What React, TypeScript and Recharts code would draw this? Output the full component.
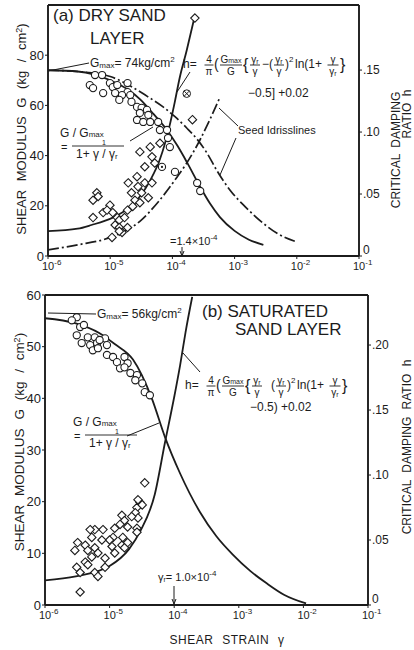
import React from 'react'
import { ComposedChart, Line, Scatter, XAxis, YAxis, ReferenceLine } from 'recharts'

const INK = '#1c1c1c'
const FONT = '"Liberation Sans", Arial, sans-serif'

type Pt = [number, number]

const STRAIN_TICKS = [1e-6, 1e-5, 1e-4, 1e-3, 1e-2, 1e-1]

// (a) dry sand layer
const DRY_G_TICKS = [0, 20, 40, 60, 80]
const DRY_H_TICKS = [0, 0.05, 0.1, 0.15]

const DRY_G_FIT: Pt[] = [
  [1e-6, 74], [3e-6, 73.5], [1e-5, 70], [2e-5, 66], [3e-5, 62.5], [5e-5, 56.5], [8e-5, 50.5],
  [1.2e-4, 44], [1.7e-4, 37.5], [2.8e-4, 27.5], [4e-4, 21], [5.8e-4, 15.5], [1e-3, 10],
  [1.7e-3, 6.5], [2.9e-3, 4.4],
]
const DRY_G_SEED: Pt[] = [
  [1e-6, 74], [3e-6, 73.5], [1e-5, 71.5], [2e-5, 68], [4e-5, 63.5], [7e-5, 59.5], [1.1e-4, 55.5],
  [1.7e-4, 51], [2.5e-4, 46.5], [3.6e-4, 41], [5.2e-4, 34], [8.4e-4, 26.3], [1.5e-3, 19.5],
  [2.9e-3, 13], [5e-3, 8.8], [1e-2, 5.6],
]
const DRY_H_FIT: Pt[] = [
  [1e-6, 0.02], [3e-6, 0.022], [5e-6, 0.025], [1.1e-5, 0.031], [1.9e-5, 0.038], [3e-5, 0.048],
  [4.4e-5, 0.061], [6.3e-5, 0.078], [9e-5, 0.105], [1.1e-4, 0.125], [1.3e-4, 0.143],
  [1.7e-4, 0.166], [2.3e-4, 0.194],
]
const DRY_H_SEED: Pt[] = [
  [1e-6, 0.005], [3e-6, 0.009], [1e-5, 0.015], [3e-5, 0.028], [6e-5, 0.044], [1.2e-4, 0.064],
  [1.7e-4, 0.075], [2.8e-4, 0.094], [4e-4, 0.11], [5.8e-4, 0.128],
]
const DRY_G_DATA: Pt[] = [
  [5.7e-6, 72.1], [7.4e-6, 72.1], [4.7e-6, 68.1], [5.3e-6, 66.9], [7.7e-6, 64.9], [9.9e-6, 68.9],
  [1.1e-5, 67.3], [1.3e-5, 68.1], [1.9e-5, 68.9], [1.9e-5, 65.3], [1.2e-5, 64.9], [1.55e-5, 64.1],
  [2.1e-5, 64.1], [1.4e-5, 62.2], [2.2e-5, 61.4], [2.7e-5, 59.4], [3.2e-5, 59], [3.9e-5, 58.2],
  [3e-5, 57], [4.1e-5, 56.2], [2.7e-5, 54.2], [3.4e-5, 53.4], [4.4e-5, 53.4], [5.9e-5, 53.4],
  [6.3e-5, 50.2], [8.2e-5, 50.2], [8.5e-5, 47], [9.1e-5, 43.4], [1.1e-4, 33.5], [2.5e-4, 29.1],
  [2.8e-4, 25.9],
]
const DRY_G_DOTTED: Pt[] = [[6.8e-5, 35.5]]
const DRY_H_DATA: Pt[] = [
  [5.3e-6, 0.031], [6.1e-6, 0.051], [5.3e-6, 0.045], [6.4e-6, 0.048], [7.7e-6, 0.035],
  [9.9e-6, 0.041], [8.9e-6, 0.037], [1.1e-5, 0.035], [1.3e-5, 0.031], [1.4e-5, 0.029],
  [1.2e-5, 0.025], [1.4e-5, 0.023], [1.55e-5, 0.019], [1.7e-5, 0.031], [1.9e-5, 0.037],
  [1.95e-5, 0.059], [2.7e-5, 0.064], [2.2e-5, 0.051], [2.8e-5, 0.056], [2.5e-5, 0.045],
  [3.2e-5, 0.051], [3.6e-5, 0.059], [4.7e-5, 0.059], [4.1e-5, 0.047], [3e-5, 0.043],
  [2.3e-5, 0.04], [1.9e-5, 0.023], [3e-5, 0.084], [4.4e-5, 0.088], [6.3e-5, 0.091],
  [4.7e-5, 0.08], [5.2e-5, 0.075], [3.6e-5, 0.072], [1.07e-5, 0.015], [1.4e-5, 0.02],
  [2.1e-4, 0.11], [2.3e-4, 0.192],
]
const DRY_H_CROSSED: Pt[] = [[1.7e-4, 0.131]]

// (b) saturated sand layer
const SAT_G_TICKS = [0, 10, 20, 30, 40, 50, 60]
const SAT_H_TICKS = [0, 0.05, 0.1, 0.15, 0.2]

const SAT_G_FIT: Pt[] = [
  [1e-6, 55.5], [3e-6, 54.5], [7e-6, 52.6], [1.2e-5, 50.5], [2.3e-5, 47.5], [4.5e-5, 40],
  [7.2e-5, 32.5], [1.23e-4, 25.5], [2.5e-4, 18], [4.5e-4, 13.3], [8e-4, 9.8], [1.5e-3, 6.6],
  [2.7e-3, 4.2], [5e-3, 2], [1.1e-2, 0.3],
]
const SAT_H_FIT: Pt[] = [
  [1e-6, 0.019], [3e-6, 0.022], [1e-5, 0.03], [2e-5, 0.043], [3e-5, 0.057], [5e-5, 0.085],
  [7.2e-5, 0.125], [1e-4, 0.16], [1.23e-4, 0.184], [1.5e-4, 0.21], [1.9e-4, 0.237],
]
const SAT_G_DATA: Pt[] = [
  [3.1e-6, 55.7], [2.6e-6, 55.1], [3.5e-6, 53.8], [3.1e-6, 52.2], [3.7e-6, 50.7], [4.6e-6, 51.8],
  [5e-6, 50.3], [5.9e-6, 51.8], [6.4e-6, 50.7], [5.5e-6, 49.3], [8.5e-6, 51.6], [9.1e-6, 50.3],
  [6.6e-6, 49.7], [9.1e-6, 48.4], [1.13e-5, 48], [1.3e-5, 47], [1.45e-5, 45.8], [1.7e-5, 48],
  [1.9e-5, 46.8], [2.1e-5, 44.9], [2.65e-5, 44.5], [2.5e-5, 43.5], [3.2e-5, 42.9],
  [3.5e-5, 41.2], [4.2e-5, 40.6], [1.7e-5, 46], [4e-6, 54.2], [7e-6, 51.3],
]
const SAT_H_DATA: Pt[] = [
  [3.5e-5, 0.094], [2.95e-5, 0.079], [2.65e-5, 0.075], [2.5e-5, 0.071], [2.75e-5, 0.067],
  [2.2e-5, 0.068], [2.65e-5, 0.059], [2.65e-5, 0.056], [1.55e-5, 0.069], [1.7e-5, 0.065],
  [1.9e-5, 0.06], [1.45e-5, 0.062], [1.2e-5, 0.059], [1.13e-5, 0.052], [1e-5, 0.05],
  [7.9e-6, 0.058], [7.6e-6, 0.05], [5.9e-6, 0.058], [5e-6, 0.058], [5.3e-6, 0.052],
  [3.2e-6, 0.048], [2.9e-6, 0.042], [4.2e-6, 0.046], [4.6e-6, 0.042], [5.9e-6, 0.044],
  [6.6e-6, 0.04], [5.3e-6, 0.037], [4.2e-6, 0.033], [4.6e-6, 0.031], [3.1e-6, 0.029],
  [3.5e-6, 0.025], [5.9e-6, 0.025], [6.6e-6, 0.022], [8.5e-6, 0.029], [8.5e-6, 0.036],
  [1.09e-5, 0.045], [1.2e-5, 0.04], [1.55e-5, 0.046], [1.6e-5, 0.052], [1.9e-5, 0.048],
  [1.7e-5, 0.044], [3.5e-6, 0.01], [2.75e-5, 0.081], [3.2e-5, 0.077],
]

const toXY = (pts: Pt[]) => pts.map(([x, y]) => ({ x, y }))

function StrainTick(props: any) {
  const { x, y, payload } = props
  const exp = Math.round(Math.log10(payload.value))
  return (
    <text x={x - 6} y={y + 9} fontSize={11} fill={INK} fontFamily={FONT}>
      10<tspan dy={-5} fontSize={8}>{exp}</tspan>
    </text>
  )
}

// damping ticks read ".05", ".10" ...; the 0 sits a little high, clear of 10^-1
function RatioTick(props: any) {
  const { x, y, payload } = props
  const v = payload.value as number
  return (
    <text x={x} y={v === 0 ? y - 2 : y + 4} fontSize={12} fill={INK} fontFamily={FONT}>
      {v === 0 ? '0' : v.toFixed(2).slice(1)}
    </text>
  )
}

const Ring = (p: any) => <circle cx={p.cx} cy={p.cy} r={3.6} fill="#fff" stroke={INK} strokeWidth={1.1} />
const DottedRing = (p: any) => (
  <g>
    <circle cx={p.cx} cy={p.cy} r={3.6} fill="#fff" stroke={INK} strokeWidth={1.1} />
    <circle cx={p.cx} cy={p.cy} r={1.1} fill={INK} />
  </g>
)
const CrossedRing = (p: any) => (
  <g stroke={INK} strokeWidth={1}>
    <circle cx={p.cx} cy={p.cy} r={3.8} fill="#fff" />
    <path d={`M${p.cx - 2.5},${p.cy - 2.5}L${p.cx + 2.5},${p.cy + 2.5}M${p.cx + 2.5},${p.cy - 2.5}L${p.cx - 2.5},${p.cy + 2.5}`} />
  </g>
)
const Diamond = (p: any) => (
  <path
    d={`M${p.cx},${p.cy - 4.2}L${p.cx + 4.2},${p.cy}L${p.cx},${p.cy + 4.2}L${p.cx - 4.2},${p.cy}Z`}
    fill="#fff"
    stroke={INK}
    strokeWidth={1.1}
  />
)

type PanelProps = {
  height: number
  top: number
  leftW: number
  rightW: number
  xH: number
  gDomain: [number, number]
  gTicks: number[]
  hDomain: [number, number]
  hTicks: number[]
  gFit: Pt[]
  hFit: Pt[]
  gSeed?: Pt[]
  hSeed?: Pt[]
  gData: Pt[]
  hData: Pt[]
  gDotted?: Pt[]
  hCrossed?: Pt[]
}

function Panel(p: PanelProps) {
  const tickStyle = { fontSize: 13, fill: INK, fontFamily: FONT }
  const axisLine = { stroke: INK, strokeWidth: 1.9 }
  return (
    <ComposedChart width={414} height={p.height} margin={{ top: p.top, right: 0, bottom: 0, left: 0 }}>
      <XAxis
        dataKey="x"
        type="number"
        scale="log"
        domain={[1e-6, 1e-1]}
        ticks={STRAIN_TICKS}
        allowDataOverflow
        height={p.xH}
        tick={<StrainTick />}
        tickSize={3}
        axisLine={axisLine}
        tickLine={{ stroke: INK }}
      />
      <YAxis
        yAxisId="g"
        dataKey="y"
        type="number"
        domain={p.gDomain}
        ticks={p.gTicks}
        allowDataOverflow
        width={p.leftW}
        tick={tickStyle}
        tickSize={3}
        tickMargin={1}
        axisLine={axisLine}
        tickLine={{ stroke: INK }}
      />
      <YAxis
        yAxisId="h"
        orientation="right"
        dataKey="y"
        type="number"
        domain={p.hDomain}
        ticks={p.hTicks}
        allowDataOverflow
        width={p.rightW}
        tick={<RatioTick />}
        tickSize={3}
        tickMargin={1}
        axisLine={axisLine}
        tickLine={{ stroke: INK }}
      />
      <ReferenceLine yAxisId="g" y={p.gDomain[1]} stroke={INK} strokeWidth={1.9} />
      {p.gSeed && (
        <Line yAxisId="g" data={toXY(p.gSeed)} dataKey="y" type="monotone" dot={false}
          stroke={INK} strokeWidth={1.7} strokeDasharray="11 3 2 3" isAnimationActive={false} />
      )}
      {p.hSeed && (
        <Line yAxisId="h" data={toXY(p.hSeed)} dataKey="y" type="monotone" dot={false}
          stroke={INK} strokeWidth={1.7} strokeDasharray="11 3 2 3" isAnimationActive={false} />
      )}
      <Line yAxisId="g" data={toXY(p.gFit)} dataKey="y" type="monotone" dot={false}
        stroke={INK} strokeWidth={1.8} isAnimationActive={false} />
      <Line yAxisId="h" data={toXY(p.hFit)} dataKey="y" type="monotone" dot={false}
        stroke={INK} strokeWidth={1.8} isAnimationActive={false} />
      <Scatter yAxisId="g" data={toXY(p.gData)} dataKey="y" shape={Ring} isAnimationActive={false} />
      <Scatter yAxisId="h" data={toXY(p.hData)} dataKey="y" shape={Diamond} isAnimationActive={false} />
      {p.gDotted && (
        <Scatter yAxisId="g" data={toXY(p.gDotted)} dataKey="y" shape={DottedRing} isAnimationActive={false} />
      )}
      {p.hCrossed && (
        <Scatter yAxisId="h" data={toXY(p.hCrossed)} dataKey="y" shape={CrossedRing} isAnimationActive={false} />
      )}
    </ComposedChart>
  )
}

function Frac({ cx, y, w, num, den }: { cx: number; y: number; w: number; num: React.ReactNode; den: React.ReactNode }) {
  return (
    <g>
      <text x={cx} y={y - 5} textAnchor="middle" fontSize={10}>{num}</text>
      <line x1={cx - w / 2} x2={cx + w / 2} y1={y - 3} y2={y - 3} stroke={INK} strokeWidth={0.9} />
      <text x={cx} y={y + 7} textAnchor="middle" fontSize={10}>{den}</text>
    </g>
  )
}

const gr = <>γ<tspan fontSize={7} dy={1}>r</tspan></>

function HFormula({ x, y, minus, close, dy2 }: { x: number; y: number; minus: boolean; close: string; dy2: number }) {
  return (
    <g>
      <text x={x} y={y} fontSize={12}>h=</text>
      <Frac cx={x + 26} y={y} w={9} num="4" den="π" />
      <text x={x + 31} y={y + 1} fontSize={14}>(</text>
      <Frac cx={x + 48} y={y} w={22} num={<>G<tspan fontSize={7}>max</tspan></>} den="G" />
      <text x={x + 60} y={y + 2} fontSize={16}>{'{'}</text>
      <Frac cx={x + 72} y={y} w={10} num={gr} den="γ" />
      {minus && <text x={x + 79} y={y} fontSize={12}>−</text>}
      <text x={x + 86} y={y} fontSize={12}>(</text>
      <Frac cx={x + 96} y={y} w={10} num={gr} den="γ" />
      <text x={x + 102} y={y} fontSize={12}>)</text>
      <text x={x + 106} y={y - 6} fontSize={8}>2</text>
      <text x={x + 112} y={y} fontSize={12}>ln(1+</text>
      <Frac cx={x + 150} y={y} w={11} num="γ" den={gr} />
      <text x={x + 157} y={y + 2} fontSize={16}>{'}'}</text>
      <text x={x + 65} y={y + dy2} fontSize={12}>{`−0.5${close} +0.02`}</text>
    </g>
  )
}

function GRatio({ x, y }: { x: number; y: number }) {
  return (
    <g>
      <text x={x} y={y} fontSize={12}>G / G<tspan fontSize={8}>max</tspan></text>
      <text x={x + 1} y={y + 14} fontSize={11}>=</text>
      <text x={x + 44} y={y + 8} fontSize={7} textAnchor="middle">1</text>
      <line x1={x + 12} x2={x + 64} y1={y + 9} y2={y + 9} stroke={INK} strokeWidth={0.9} />
      <text x={x + 16} y={y + 21} fontSize={12}>1+ γ / γ<tspan fontSize={8} dy={1}>r</tspan></text>
    </g>
  )
}

function Arrow({ x, y1, y2 }: { x: number; y1: number; y2: number }) {
  return (
    <g stroke={INK} strokeWidth={1}>
      <line x1={x} x2={x} y1={y1} y2={y2} />
      <path d={`M${x - 2},${y2 - 5}L${x},${y2}L${x + 2},${y2 - 5}`} fill="none" />
    </g>
  )
}

function Annotations() {
  return (
    <svg width={414} height={650} style={{ position: 'absolute', left: 0, top: 0, pointerEvents: 'none' }}
      fontFamily={FONT} fill={INK}>
      {/* panel (a) */}
      <text x={53} y={21} fontSize={17}>(a) DRY SAND</text>
      <text x={90} y={44} fontSize={17}>LAYER</text>
      <line x1={48} y1={71} x2={89} y2={63} stroke={INK} strokeWidth={1} />
      <text x={90} y={67} fontSize={12}>
        G<tspan fontSize={8} dy={1}>max</tspan><tspan dy={-1}>= 74kg/cm</tspan><tspan fontSize={8} dy={-5}>2</tspan>
      </text>
      <HFormula x={183} y={68} minus close="]" dy2={29} />
      <line x1={190} y1={72} x2={177} y2={92} stroke={INK} strokeWidth={1} />
      <GRatio x={60} y={137} />
      <line x1={130} y1={141} x2={153} y2={127} stroke={INK} strokeWidth={1} />
      <text x={238} y={134} fontSize={11}>Seed Idrisslines</text>
      <line x1={238} y1={126} x2={219} y2={108} stroke={INK} strokeWidth={1} />
      <line x1={236} y1={138} x2={220} y2={175} stroke={INK} strokeWidth={1} />
      <text x={170} y={245} fontSize={11}>=1.4×10<tspan fontSize={8} dy={-5}>-4</tspan></text>
      <Arrow x={182} y1={247} y2={256} />
      <text transform="translate(26,129) rotate(-90)" textAnchor="middle" fontSize={13} wordSpacing={5}>
        SHEAR MODULUS G (kg / cm<tspan fontSize={9} dy={-4}>2</tspan><tspan dy={4}>)</tspan>
      </text>
      <text transform="translate(400,150) rotate(-90)" textAnchor="middle" fontSize={12} wordSpacing={3}>CRITICAL DAMPING</text>
      <text transform="translate(411,114) rotate(-90)" textAnchor="middle" fontSize={12} wordSpacing={3}>RATIO h</text>

      {/* panel (b) */}
      <text x={202} y={317} fontSize={17}>(b) SATURATED</text>
      <text x={235} y={335} fontSize={17}>SAND LAYER</text>
      <line x1={48} y1={313} x2={96} y2={314} stroke={INK} strokeWidth={1} />
      <text x={97} y={318} fontSize={12}>
        G<tspan fontSize={8} dy={1}>max</tspan><tspan dy={-1}>= 56kg/cm</tspan><tspan fontSize={8} dy={-5}>2</tspan>
      </text>
      <HFormula x={185} y={389} minus={false} close=")" dy2={22} />
      <line x1={200} y1={372} x2={183} y2={353} stroke={INK} strokeWidth={1} />
      <GRatio x={73} y={426} />
      <line x1={127} y1={436} x2={159} y2={423} stroke={INK} strokeWidth={1} />
      <text x={158} y={581} fontSize={11}>γ<tspan fontSize={7} dy={1}>r</tspan><tspan dy={-1}>= 1.0×10</tspan><tspan fontSize={8} dy={-5}>-4</tspan></text>
      <Arrow x={174} y1={586} y2={604} />
      <text x={227} y={644} textAnchor="middle" fontSize={12} wordSpacing={5} letterSpacing={0.5}>SHEAR STRAIN γ</text>
      <text transform="translate(24,442) rotate(-90)" textAnchor="middle" fontSize={13.5} wordSpacing={5}>
        SHEAR MODULUS G (kg / cm<tspan fontSize={9} dy={-4}>2</tspan><tspan dy={4}>)</tspan>
      </text>
      <text transform="translate(411,447) rotate(-90)" textAnchor="middle" fontSize={12} wordSpacing={4}>CRITICAL DAMPING RATIO h</text>
    </svg>
  )
}

export default function App() {
  return (
    <div style={{ position: 'absolute', left: 0, top: 0, width: 414, height: 650, background: '#fff' }}>
      <div style={{ position: 'absolute', left: 0, top: 0 }}>
        <Panel height={285} top={5} leftW={48} rightW={55} xH={29}
          gDomain={[0, 100]} gTicks={DRY_G_TICKS} hDomain={[0, 0.2025]} hTicks={DRY_H_TICKS}
          gFit={DRY_G_FIT} hFit={DRY_H_FIT} gSeed={DRY_G_SEED} hSeed={DRY_H_SEED}
          gData={DRY_G_DATA} hData={DRY_H_DATA} gDotted={DRY_G_DOTTED} hCrossed={DRY_H_CROSSED} />
      </div>
      <div style={{ position: 'absolute', left: 0, top: 280 }}>
        <Panel height={370} top={15} leftW={45} rightW={46} xH={45}
          gDomain={[0, 60]} gTicks={SAT_G_TICKS} hDomain={[0, 0.2385]} hTicks={SAT_H_TICKS}
          gFit={SAT_G_FIT} hFit={SAT_H_FIT} gData={SAT_G_DATA} hData={SAT_H_DATA} />
      </div>
      <Annotations />
    </div>
  )
}
